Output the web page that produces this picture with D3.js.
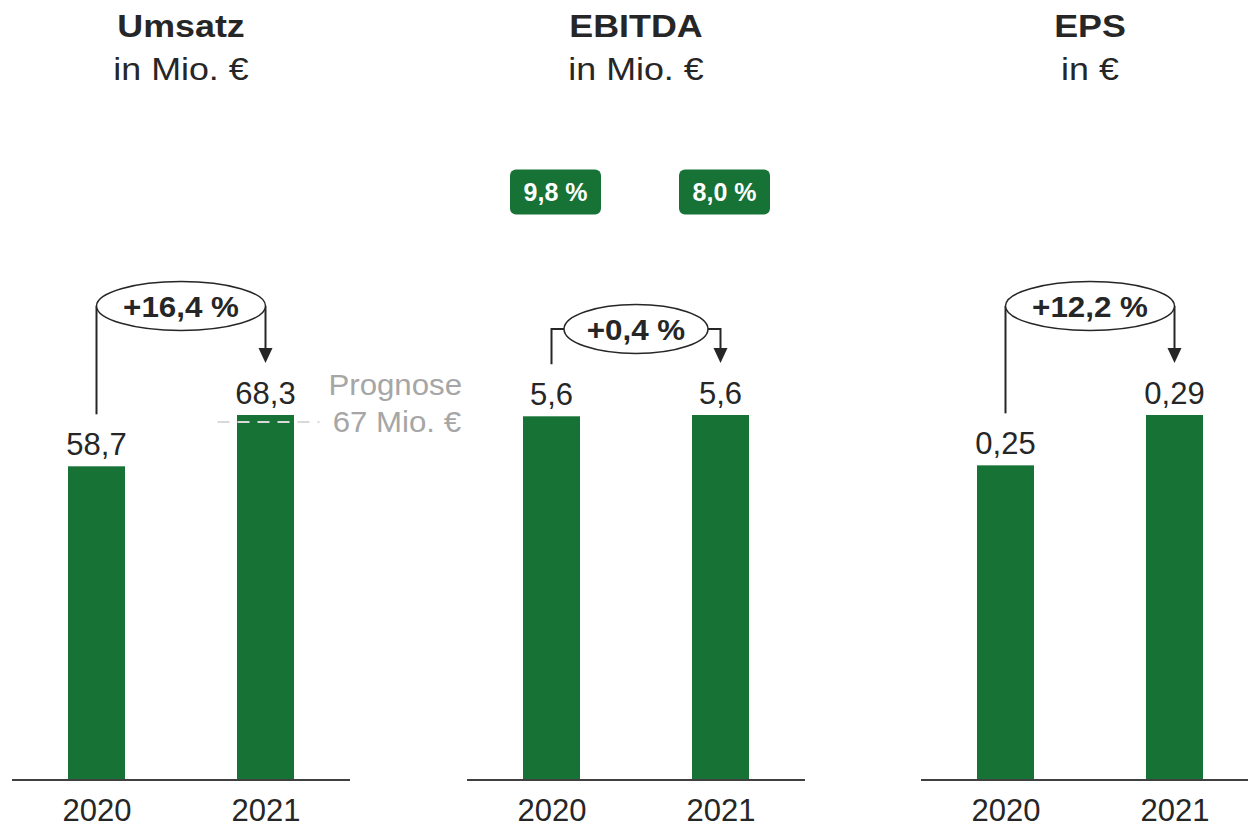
<!DOCTYPE html>
<html>
<head>
<meta charset="utf-8">
<script src="https://cdn.jsdelivr.net/npm/d3@7"></script>
<style>
body { margin: 0; background: #fff; }
text { font-family: "Liberation Sans", Arial, sans-serif; }
</style>
</head>
<body>
<div id="chart"></div>
<script>
var years = ['2020', '2021'];
var titles = ['Umsatz', 'EBITDA', 'EPS'];
var units = ['in Mio. €', 'in Mio. €', 'in €'];
var umsatz = [58.7, 68.3];
var ebitda = [5.58, 5.6];
var eps = [0.25, 0.29];
var valueLabels = [['58,7', '68,3'], ['5,6', '5,6'], ['0,25', '0,29']];
var growthLabels = ['+16,4 %', '+0,4 %', '+12,2 %'];
var marginLabels = ['9,8 %', '8,0 %'];
var forecastValue = 67;
var forecastLabels = ['Prognose', '67 Mio. €'];

var width = 1248;
var height = 827;
var green = '#177235';
var dark = '#262626';
var panelWidth = 338;
var panelStarts = [12, 467, 921];
var baseline = 780;
var barTop = 415;
var barWidth = 57;

var svg = d3.select('#chart')
	.append('svg')
	.attr('width', width)
	.attr('height', height);

// arrow head pointing down, tip at (x, y)
function arrowHead(g, x, y) {
	g.append('path')
		.attr('d', 'M' + (x - 7) + ',' + (y - 15) + 'L' + (x + 7) + ',' + (y - 15) + 'L' + x + ',' + y + 'Z')
		.attr('fill', dark);
}

var series = [umsatz, ebitda, eps];

series.forEach(function(values, i) {
	var x0 = panelStarts[i];
	var g = svg.append('g');

	var x_scale = d3.scalePoint()
		.domain(years)
		.range([x0, x0 + panelWidth])
		.padding(0.5);

	var y_scale = d3.scaleLinear()
		.domain([0, d3.max(values)])
		.range([baseline, barTop]);

	var cx = x0 + panelWidth / 2;

	// titles (slightly wide lettering as in the original)
	g.append('text')
		.attr('transform', 'translate(' + cx + ',37) scale(1.12,1)')
		.attr('text-anchor', 'middle')
		.attr('font-size', 32).attr('font-weight', 'bold')
		.attr('fill', dark)
		.text(titles[i]);
	g.append('text')
		.attr('transform', 'translate(' + cx + ',80) scale(1.12,1)')
		.attr('text-anchor', 'middle')
		.attr('font-size', 32)
		.attr('fill', dark)
		.text(units[i]);

	// bars
	g.selectAll('rect.bar')
		.data(values)
		.enter()
		.append('rect')
		.attr('class', 'bar')
		.attr('x', function(d, j) { return x_scale(years[j]) - barWidth / 2; })
		.attr('y', function(d) { return y_scale(d); })
		.attr('width', barWidth)
		.attr('height', function(d) { return baseline - y_scale(d); })
		.attr('fill', green);

	// axis
	var x_axis = d3.axisBottom(x_scale).tickSize(0).tickPadding(19);
	var ax = g.append('g')
		.attr('transform', 'translate(0,' + baseline + ')')
		.call(x_axis);
	ax.select('.domain').attr('stroke', '#404040').attr('stroke-width', 2)
		.attr('d', 'M' + x0 + ',0H' + (x0 + panelWidth));
	ax.selectAll('text')
		.attr('font-size', 31)
		.attr('fill', dark)
		.attr('font-family', '"Liberation Sans", Arial, sans-serif')
		.attr('dy', '0.71em');

	// value labels
	g.selectAll('text.val')
		.data(values)
		.enter()
		.append('text')
		.attr('class', 'val')
		.attr('x', function(d, j) { return x_scale(years[j]); })
		.attr('y', function(d) { return y_scale(d) - 11; })
		.attr('text-anchor', 'middle')
		.attr('font-size', 31)
		.attr('fill', dark)
		.text(function(d, j) { return valueLabels[i][j]; });

	// growth annotation
	var xa = x_scale(years[0]);
	var xb = x_scale(years[1]);
	var ya = y_scale(values[0]) - 52;
	var yb = y_scale(values[1]) - 52;
	var flat = Math.abs(values[1] - values[0]) / values[0] < 0.05;
	var ey, rx;
	if (flat) {
		ey = Math.min(ya, yb) - 34;
		rx = 72;
		g.append('path')
			.attr('d', 'M' + xa + ',' + ya + 'V' + ey + 'H' + (cx - rx))
			.attr('fill', 'none').attr('stroke', dark).attr('stroke-width', 2);
		g.append('path')
			.attr('d', 'M' + (cx + rx) + ',' + ey + 'H' + xb + 'V' + (yb - 12))
			.attr('fill', 'none').attr('stroke', dark).attr('stroke-width', 2);
	} else {
		ey = Math.min(ya, yb) - 57;
		rx = (xb - xa) / 2;
		g.append('path')
			.attr('d', 'M' + xa + ',' + ya + 'V' + ey)
			.attr('fill', 'none').attr('stroke', dark).attr('stroke-width', 2);
		g.append('path')
			.attr('d', 'M' + xb + ',' + ey + 'V' + (yb - 12))
			.attr('fill', 'none').attr('stroke', dark).attr('stroke-width', 2);
	}
	arrowHead(g, xb, yb);
	g.append('ellipse')
		.attr('cx', cx).attr('cy', ey)
		.attr('rx', rx).attr('ry', 24.5)
		.attr('fill', '#fff').attr('stroke', dark).attr('stroke-width', 1.5);
	g.append('text')
		.attr('transform', 'translate(' + cx + ',' + (ey + 11) + ') scale(1.08,1)')
		.attr('text-anchor', 'middle')
		.attr('font-size', 29).attr('font-weight', 'bold')
		.attr('fill', dark)
		.text(growthLabels[i]);

	// EBITDA margin badges
	if (i === 1) {
		var badges = g.selectAll('g.badge')
			.data(marginLabels)
			.enter()
			.append('g')
			.attr('class', 'badge')
			.attr('transform', function(d, j) {
				return 'translate(' + (x_scale(years[j]) + 4) + ',192)';
			});
		badges.append('rect')
			.attr('x', -45.5).attr('y', -22.5)
			.attr('width', 91).attr('height', 45)
			.attr('rx', 6)
			.attr('fill', green);
		badges.append('text')
			.attr('y', 9)
			.attr('text-anchor', 'middle')
			.attr('font-size', 25).attr('font-weight', 'bold')
			.attr('fill', '#fff')
			.text(function(d) { return d; });
	}

	// Umsatz forecast
	if (i === 0) {
		var yf = y_scale(forecastValue);
		g.append('line')
			.attr('x1', xb - 48).attr('x2', xb + 54)
			.attr('y1', yf).attr('y2', yf)
			.attr('stroke', '#d9d9d9').attr('stroke-width', 2)
			.attr('stroke-dasharray', '12,8');
		g.append('text')
			.attr('transform', 'translate(462,395) scale(1.04,1)')
			.attr('text-anchor', 'end')
			.attr('font-size', 30)
			.attr('fill', '#a6a6a6')
			.text(forecastLabels[0]);
		g.append('text')
			.attr('transform', 'translate(461,432) scale(1.04,1)')
			.attr('text-anchor', 'end')
			.attr('font-size', 30)
			.attr('fill', '#a6a6a6')
			.text(forecastLabels[1]);
	}
});
</script>
</body>
</html>
